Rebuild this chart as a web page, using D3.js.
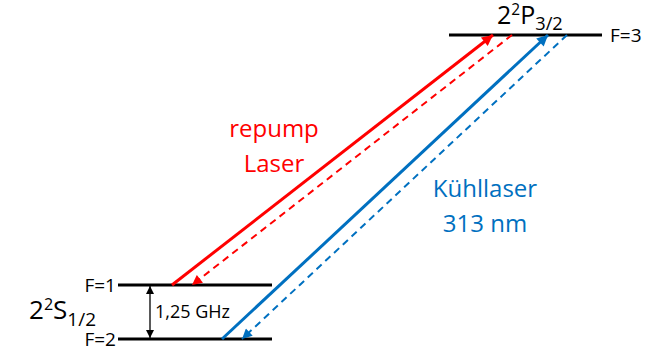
<!DOCTYPE html>
<html>
<head>
<meta charset="utf-8">
<script src="https://cdn.jsdelivr.net/npm/d3@7"></script>
<style>
  body { margin: 0; background: #fff; }
  svg { display: block; font-family: "Open Sans", "Noto Sans", sans-serif; }
</style>
</head>
<body>
<div id="chart"></div>
<script>
// --- data ---
const levelNames = ["F=2", "F=1", "F=3"];
const levelEnergy = [0, 1, 5.63];          // schematic energy axis (not to scale)
const levelTerm = ["S", "S", "P"];

// transitions: from level -> to level
const transFrom = ["F=1", "F=3", "F=2", "F=3"];
const transTo   = ["F=3", "F=1", "F=3", "F=2"];
const transColor = ["red", "red", "blue", "blue"];
const transDashed = [false, true, false, true];
const transX0 = [172, 512, 222, 567];
const transX1 = [493, 192, 548, 242];

const splitLabel = "1,25 GHz";

// --- layout ---
const width = 646, height = 351;
const colors = { red: "#ff0000", blue: "#0070c0" };

const y = d3.scaleLinear().domain([0, 1]).range([339, 285]);

const levels = levelNames.map((n, i) => ({
  name: n, e: levelEnergy[i], term: levelTerm[i],
  x1: levelTerm[i] === "S" ? 118 : 449,
  x2: levelTerm[i] === "S" ? 272 : 602
}));
const byName = new Map(levels.map(d => [d.name, d]));

const svg = d3.select("#chart").append("svg")
  .attr("width", width).attr("height", height);

const defs = svg.append("defs");
function marker(id, color, w, h) {
  defs.append("marker")
    .attr("id", id)
    .attr("viewBox", "0 0 10 10")
    .attr("refX", 10).attr("refY", 5)
    .attr("markerUnits", "userSpaceOnUse")
    .attr("markerWidth", w).attr("markerHeight", h)
    .attr("orient", "auto")
    .append("path").attr("d", "M0,0L10,5L0,10Z").attr("fill", color);
}
marker("ah-red", colors.red, 14, 11);
marker("ah-blue", colors.blue, 14, 11);
marker("ah-red-s", colors.red, 12, 10);
marker("ah-blue-s", colors.blue, 12, 10);
marker("ah-black", "#000", 9, 8);

// level lines
svg.append("g").selectAll("line").data(levels).join("line")
  .attr("x1", d => d.x1).attr("x2", d => d.x2)
  .attr("y1", d => y(d.e)).attr("y2", d => y(d.e))
  .attr("stroke", "#000").attr("stroke-width", 3);

// F labels
svg.append("g").selectAll("text").data(levels).join("text")
  .attr("x", d => d.term === "S" ? d.x1 - 2 : d.x2 + 8)
  .attr("y", d => y(d.e) + 7)
  .attr("text-anchor", d => d.term === "S" ? "end" : "start")
  .attr("font-size", 19)
  .text(d => d.name);

// transitions
const trans = transFrom.map((f, i) => ({
  from: byName.get(f), to: byName.get(transTo[i]),
  color: transColor[i], dashed: transDashed[i],
  x0: transX0[i], x1: transX1[i]
}));
svg.append("g").selectAll("line").data(trans).join("line")
  .attr("x1", d => d.x0).attr("y1", d => y(d.from.e))
  .attr("x2", d => d.x1).attr("y2", d => y(d.to.e))
  .attr("stroke", d => colors[d.color])
  .attr("stroke-width", d => d.dashed ? 2 : 3)
  .attr("stroke-dasharray", d => d.dashed ? "7,5" : null)
  .attr("marker-end", d => `url(#ah-${d.color}${d.dashed ? "-s" : ""})`);

// splitting double arrow
const sx = 150;
[1, 0].forEach(e => {
  svg.append("line")
    .attr("x1", sx).attr("x2", sx)
    .attr("y1", (y(0) + y(1)) / 2).attr("y2", y(e) + (e ? 1 : -1))
    .attr("stroke", "#000").attr("stroke-width", 1.3)
    .attr("marker-end", "url(#ah-black)");
});
svg.append("text")
  .attr("x", 155).attr("y", 318)
  .attr("font-size", 18)
  .text(splitLabel);

// term labels
function term(x, yb, size, letter, sub, subDy) {
  const t = svg.append("text").attr("x", x).attr("y", yb).attr("font-size", size);
  t.append("tspan").text("2");
  t.append("tspan").attr("font-size", size * 0.62).attr("dy", -size * 0.35).text("2");
  t.append("tspan").attr("dy", size * 0.35).text(letter);
  t.append("tspan").attr("font-size", size * 0.73).attr("dy", subDy).text(sub);
}
term(497, 24, 25, "P", "3/2", 6);
term(29, 319, 26, "S", "1/2", 7);

// laser labels
const laserText = [
  { lines: ["repump", "Laser"], x: 274, y: 137, color: colors.red },
  { lines: ["Kühllaser", "313 nm"], x: 485, y: 197, color: colors.blue }
];
laserText.forEach(l => {
  svg.append("g").selectAll("text").data(l.lines).join("text")
    .attr("x", l.x).attr("y", (d, i) => l.y + i * 35)
    .attr("text-anchor", "middle")
    .attr("font-size", 24)
    .attr("fill", l.color)
    .text(d => d);
});
</script>
</body>
</html>
